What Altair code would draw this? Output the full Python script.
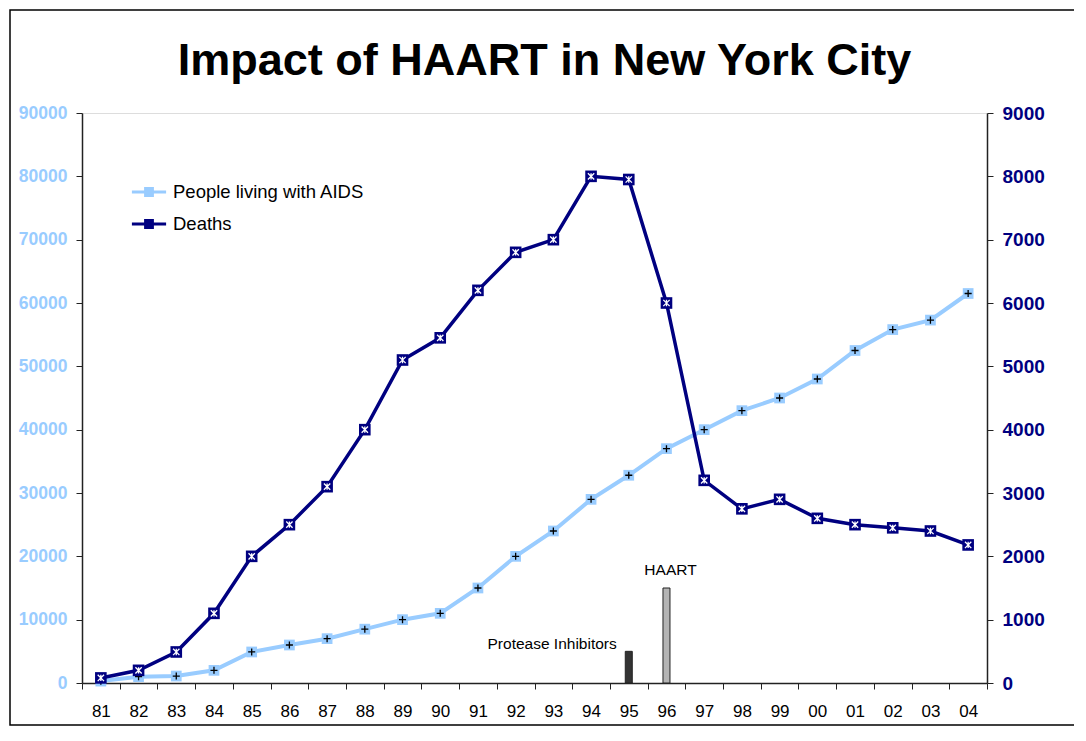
import altair as alt
import pandas as pd

title_text = "Impact of HAART in New York City"
years = ["81", "82", "83", "84", "85", "86", "87", "88", "89", "90", "91", "92",
         "93", "94", "95", "96", "97", "98", "99", "00", "01", "02", "03", "04"]
living = [300, 1000, 1100, 2000, 4900, 6000, 7000, 8500, 10000, 11000, 15000, 20000,
          24000, 29000, 32800, 37000, 40000, 43000, 45000, 48000, 52500, 55800, 57300, 61500]
deaths = [80, 200, 490, 1100, 2000, 2500, 3100, 4000, 5100, 5450, 6200, 6800,
          7000, 8000, 7950, 6000, 3200, 2750, 2900, 2600, 2500, 2450, 2400, 2180]
event_years = ["95", "96"]
event_names = ["Protease Inhibitors", "HAART"]
event_values = [5000, 15000]
event_colors = ["#333333", "#b4b4b4"]

series_names = ["People living with AIDS", "Deaths"]
series_colors = ["#99ccff", "#000080"]

FONT = "Liberation Sans"
W, H = 905, 570
PAD = {"left": 74, "top": 105, "right": 87, "bottom": 45}

df_l = pd.DataFrame({"year": years, "value": living, "series": series_names[0]})
df_d = pd.DataFrame({"year": years, "value": deaths, "series": series_names[1]})
df_e = pd.DataFrame({"year": event_years, "name": event_names, "value": event_values,
                     "col": event_colors})

xscale = alt.Scale(type="band", domain=years, paddingInner=0, paddingOuter=0)
xaxis = alt.Axis(title=None, tickBand="extent", labelFontSize=17, labelFont=FONT,
                 labelColor="black", tickColor="#222222", tickSize=6, labelPadding=14,
                 domainColor="#222222", domainWidth=1.5, grid=False, labelAngle=0)
X = alt.X("year:N", scale=xscale, axis=xaxis, sort=years)

color = alt.Color("series:N",
                  scale=alt.Scale(domain=series_names, range=series_colors),
                  legend=alt.Legend(
                      title=None, orient="none", legendX=54, legendY=66,
                      symbolType="M-1.5,0H1.5M-0.43,-0.3H0.43M-0.43,-0.15H0.43M-0.43,0H0.43M-0.43,0.15H0.43M-0.43,0.3H0.43",
                      symbolSize=520, symbolStrokeWidth=3, labelFontSize=18.5,
                      labelFont=FONT, labelColor="black", rowPadding=9,
                      labelOffset=11, labelLimit=0, symbolOpacity=1))

yl_scale = alt.Scale(domain=[0, 90000], nice=False, zero=True)
yl_axis = alt.Axis(title=None, orient="left", values=list(range(0, 90001, 10000)),
                   labelColor="#99ccff", labelFontWeight="bold", labelFontSize=17.5,
                   labelFont=FONT, tickColor="#222222", tickSize=6, labelPadding=9,
                   domainColor="#222222", domainWidth=1.5, grid=False, format="d")
yr_scale = alt.Scale(domain=[0, 9000], nice=False, zero=True)
yr_axis = alt.Axis(title=None, orient="right", values=list(range(0, 9001, 1000)),
                   labelColor="#000080", labelFontWeight="bold", labelFontSize=19,
                   labelFont=FONT, tickColor="#222222", tickSize=6, labelPadding=9,
                   domainColor="#222222", domainWidth=1.5, grid=False, format="d")

YL = alt.Y("value:Q", scale=yl_scale, axis=yl_axis)
YR = alt.Y("value:Q", scale=yr_scale, axis=yr_axis)

plus_path = "M-1,0H1M0,-1V1"
star_path = "M-1,-1L1,1M-1,1L1,-1M0,-1V1"

one = pd.DataFrame({"t": [title_text]})
frame = alt.Chart(one).mark_rect(
    fill="transparent", stroke="black", strokeWidth=1.5).encode(
    x=alt.value(-(PAD["left"] - 2)), x2=alt.value(W + 200),
    y=alt.value(-(PAD["top"] - 2)), y2=alt.value(H + PAD["bottom"] - 3))
title = alt.Chart(one).mark_text(
    fontSize=45, font=FONT, fontWeight="bold", color="black", align="center",
    baseline="alphabetic").encode(
    x=alt.value(W / 2 + 10), y=alt.value(-38), text="t:N")

bars = alt.Chart(df_e).mark_bar(width=7, stroke="#222222", strokeWidth=1).encode(
    x=X, y=YL, fill=alt.Fill("col:N", scale=None))
labels_pi = alt.Chart(df_e[df_e["name"] == event_names[0]]).mark_text(
    align="right", baseline="alphabetic", dx=-12, dy=-2, fontSize=15.5, font=FONT,
    color="black").encode(x=X, y=YL, text="name:N")
labels_h = alt.Chart(df_e[df_e["name"] == event_names[1]]).mark_text(
    align="center", baseline="alphabetic", dx=4, dy=-13, fontSize=15.5, font=FONT,
    color="black").encode(x=X, y=YL, text="name:N")

line_l = alt.Chart(df_l).mark_line(strokeWidth=4).encode(x=X, y=YL, color=color)
sq_l = alt.Chart(df_l).mark_square(size=115, opacity=1, color=series_colors[0]).encode(x=X, y=YL)
gl_l = alt.Chart(df_l).mark_point(shape=plus_path, size=50, color="black",
                                  strokeWidth=1.3, opacity=1).encode(x=X, y=YL)

line_d = alt.Chart(df_d).mark_line(strokeWidth=3.5).encode(x=X, y=YR, color=color)
sq_d = alt.Chart(df_d).mark_square(size=135, opacity=1, color=series_colors[1]).encode(x=X, y=YR)
gl_d = alt.Chart(df_d).mark_point(shape=star_path, size=40, color="white",
                                  strokeWidth=1.3, opacity=1).encode(x=X, y=YR)

left = alt.layer(frame, title, bars, labels_pi, labels_h, line_l, sq_l, gl_l)
right = alt.layer(line_d, sq_d, gl_d)

chart = alt.layer(left, right).resolve_scale(y="independent", color="shared").properties(
    width=W, height=H,
    autosize=alt.AutoSizeParams(type="none"),
    padding=PAD,
).configure_view(stroke="#222222", strokeWidth=1.2).configure(background="white")

chart.save("out.html", embed_options={"renderer": "svg", "actions": False})
